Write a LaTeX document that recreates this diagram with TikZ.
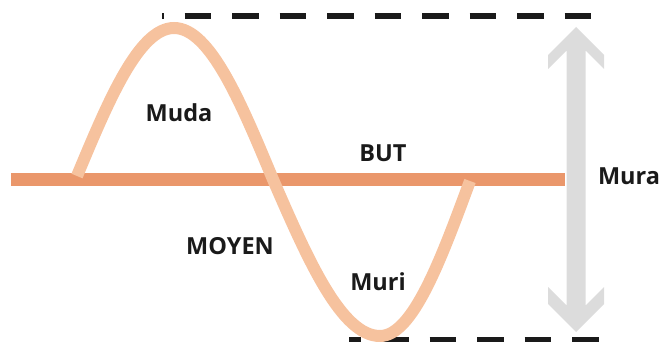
\documentclass[tikz,border=0pt]{standalone}
\usepackage{fontspec}
\setmainfont{Open Sans}
\definecolor{barorange}{HTML}{EA976B}
\definecolor{peach}{HTML}{F6C29E}
\definecolor{arrowgrey}{HTML}{DCDCDC}
\definecolor{dashblack}{HTML}{1A1A1A}
\tikzset{
  lbl/.style={font=\fontsize{23.5}{25}\selectfont\bfseries, text=dashblack, inner sep=0pt, anchor=base},
  dashline/.style={draw=dashblack, line width=6.5pt, dash pattern=on 26.5pt off 21pt},
}
\begin{document}
\begin{tikzpicture}[x=1pt,y=-1pt]
\useasboundingbox (0,0) rectangle (664,342);
\clip (0,0) rectangle (664,342);
% dashed limits
\coordinate (t1) at (162,16);
\coordinate (t2) at (594,16);
\coordinate (b1) at (349,340);
\coordinate (b2) at (601,340);
\draw[dashline, dash phase=25pt] (t1) -- (t2);
\draw[dashline, dash phase=14.5pt] (b1) -- (b2);
% grey double arrow
\fill[arrowgrey] (576,27) -- (604,55) -- (604,69) -- (585.5,50.5) -- (585.5,305.5)
  -- (604,287) -- (604,304) -- (576,332) -- (548,304) -- (548,287) -- (566.5,305.5)
  -- (566.5,50.5) -- (548,69) -- (548,55) -- cycle;
% base line
\coordinate (l1) at (11,179.5);
\coordinate (l2) at (565,179.5);
\draw[barorange, line width=13pt] (l1) -- (l2);
% wave
\coordinate (w0) at (77,176);
\coordinate (w1) at (174,28);
\coordinate (w2) at (273,179.5);
\coordinate (w3) at (380,336);
\coordinate (w4) at (470,181);
\draw[peach, line width=12pt] (w0) sin (w1) cos (w2) sin (w3) cos (w4);
% labels
\node[lbl] (muda) at (179,122) {Muda};
\node[lbl] (but) at (383,161) {BUT};
\node[lbl] (moyen) at (230,254) {MOYEN};
\node[lbl] (muri) at (378,290) {Muri};
\node[lbl] (mura) at (629,185) {Mura};
\end{tikzpicture}
\end{document}
